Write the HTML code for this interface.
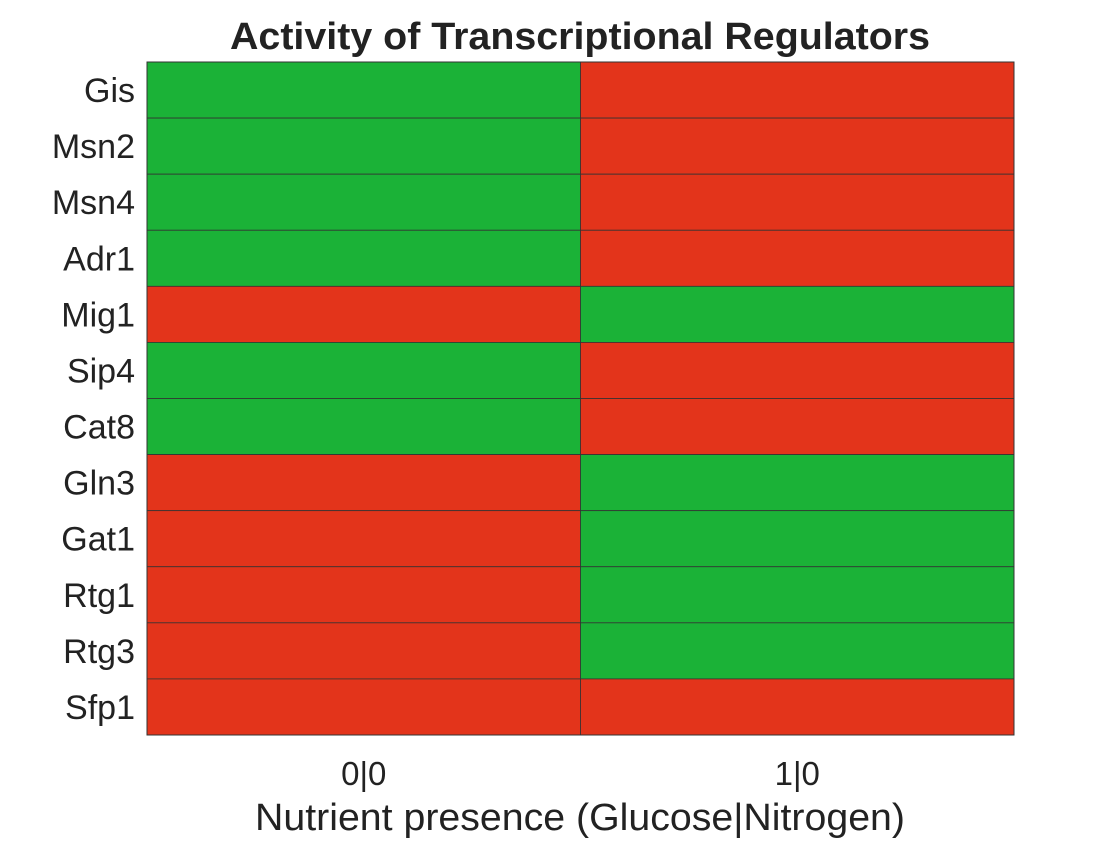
<!DOCTYPE html>
<html><head><meta charset="utf-8"><style>
body{margin:0;background:#fff;width:1120px;height:840px;overflow:hidden}
svg{font-family:"Liberation Sans",sans-serif}
</style></head><body>
<svg id="chart" width="1120" height="840">
<text x="580" y="49" text-anchor="middle" font-size="38" font-weight="bold" fill="#222" textLength="700" lengthAdjust="spacingAndGlyphs">Activity of Transcriptional Regulators</text>
<g id="cells"></g>
<g id="ylabels"></g>
<g id="xlabels"></g>
<rect x="147" y="62" width="867" height="673" fill="none" stroke="#333" stroke-width="1"/>
<text x="580" y="830" text-anchor="middle" font-size="38" fill="#222" textLength="650" lengthAdjust="spacingAndGlyphs">Nutrient presence (Glucose|Nitrogen)</text>
</svg>
<script>
const rows = ["Gis","Msn2","Msn4","Adr1","Mig1","Sip4","Cat8","Gln3","Gat1","Rtg1","Rtg3","Sfp1"];
const cols = ["0|0","1|0"];
const col0 = [1,1,1,1,0,1,1,0,0,0,0,0];
const col1 = [0,0,0,0,1,0,0,1,1,1,1,0];
const values = [col0, col1];
const L=147,R=1014,T=62,B=735;
const cw=(R-L)/cols.length, rh=(B-T)/rows.length;
const xPos=i=>L+i*cw, yPos=j=>T+j*rh;
const ns="http://www.w3.org/2000/svg";
const cells=document.getElementById('cells'), yl=document.getElementById('ylabels'), xl=document.getElementById('xlabels');
values.forEach((col,i)=>col.forEach((v,j)=>{
  const r=document.createElementNS(ns,'rect');
  r.setAttribute('x',xPos(i));r.setAttribute('y',yPos(j));
  r.setAttribute('width',cw);r.setAttribute('height',rh);
  r.setAttribute('fill',v?'#1bb237':'#e3341b');
  r.setAttribute('stroke','#333');r.setAttribute('stroke-width','0.8');
  
  
  cells.appendChild(r);
}));
rows.forEach((n,j)=>{
  const t=document.createElementNS(ns,'text');
  t.setAttribute('x',135);t.setAttribute('y',yPos(j)+rh/2+12);
  t.setAttribute('text-anchor','end');t.setAttribute('font-size','34');t.setAttribute('fill','#222');
  t.textContent=n;
  
  
  yl.appendChild(t);
});
cols.forEach((c,i)=>{
  const t=document.createElementNS(ns,'text');
  t.setAttribute('x',xPos(i)+cw/2);t.setAttribute('y',785);
  t.setAttribute('text-anchor','middle');t.setAttribute('font-size','33');t.setAttribute('fill','#222');
  t.textContent=c;
  
  
  xl.appendChild(t);
});
</script>
</body></html>
